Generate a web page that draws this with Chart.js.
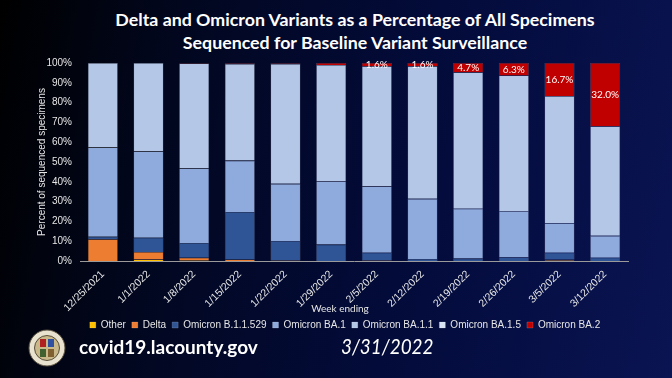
<!DOCTYPE html>
<html>
<head>
<meta charset="utf-8">
<script src="https://cdn.jsdelivr.net/npm/chart.js@4"></script>
<style>
  html, body { margin: 0; padding: 0; }
  body {
    width: 672px; height: 378px; overflow: hidden; position: relative;
    background: linear-gradient(100deg, #000000 0%, #02071f 25%, #030b3a 60%, #0a1452 100%);
    font-family: Lato, "Open Sans", sans-serif;
  }
  .title {
    position: absolute; left: 38px; width: 634px; top: 8px;
    text-align: center; color: #fff; font-weight: bold; font-size: 17.8px; line-height: 23px;
  }
  .chartbox { position: absolute; left: 0; top: 49px; width: 672px; height: 291px; }
  .seal { position: absolute; left: 28px; top: 329px; }
  .site { position: absolute; left: 79px; top: 335px; color: #fff; font-size: 19px; font-weight: bold; }
  .date { position: absolute; left: 341px; top: 333px; color: #fff; font-size: 21px; font-style: italic;
    transform: scaleX(0.9); transform-origin: left center; }
</style>
</head>
<body>
<div class="title">Delta and Omicron Variants as a Percentage of All Specimens<br>Sequenced for Baseline Variant Surveillance</div>
<div class="chartbox"><canvas id="chart"></canvas></div>
<svg class="seal" width="38" height="38" viewBox="0 0 38 38">
  <circle cx="19" cy="19" r="18" fill="#e8e2cf" stroke="#5a5040" stroke-width="1"/>
  <circle cx="19" cy="19" r="12.5" fill="#c8b88a" stroke="#3a3020" stroke-width="0.8"/>
  <rect x="12" y="10" width="6" height="8" fill="#b02020"/>
  <rect x="20" y="10" width="6" height="8" fill="#3050a0"/>
  <rect x="12" y="20" width="6" height="8" fill="#406030"/>
  <rect x="20" y="20" width="6" height="8" fill="#806030"/>
</svg>
<div class="site">covid19.lacounty.gov</div>
<div class="date">3/31/2022</div>
<script>
// Week ending labels
const weeks = ['12/25/2021', '1/1/2022', '1/8/2022', '1/15/2022', '1/22/2022', '1/29/2022',
  '2/5/2022', '2/12/2022', '2/19/2022', '2/26/2022', '3/5/2022', '3/12/2022'];

// Percent of sequenced specimens per variant
const other    = [0, 0.8, 0.2, 0, 0, 0, 0, 0, 0, 0, 0.3, 0];
const delta    = [11.0, 3.8, 1.5, 0.8, 0.2, 0, 0.2, 0, 0, 0, 0.5, 0];
const b11529   = [1.3, 7.2, 7.4, 24.0, 9.9, 8.3, 4.0, 1.0, 1.2, 1.9, 3.4, 1.7];
const ba1      = [45.1, 43.6, 37.7, 25.9, 28.9, 31.9, 33.5, 30.4, 25.2, 23.3, 14.9, 11.0];
const ba11     = [42.6, 44.6, 53.0, 48.9, 60.6, 58.8, 60.7, 67.0, 68.9, 68.5, 64.2, 55.3];
const ba15     = [0, 0, 0, 0, 0, 0, 0, 0, 0, 0, 0, 0];
const ba2      = [0, 0, 0.2, 0.4, 0.4, 1.0, 1.6, 1.6, 4.7, 6.3, 16.7, 32.0];

const yTicks = [0, 10, 20, 30, 40, 50, 60, 70, 80, 90, 100];

const textColor = '#e6e6e6';

// Labels for the BA.2 segments (only from 2/5 on)
const ba2Labels = {
  id: 'ba2Labels',
  afterDatasetsDraw(chart) {
    const ctx = chart.ctx;
    const meta = chart.getDatasetMeta(6);
    ctx.save();
    ctx.font = '10px Lato, "Open Sans", sans-serif';
    ctx.fillStyle = '#ffffff';
    ctx.textAlign = 'center';
    ctx.textBaseline = 'middle';
    meta.data.forEach((bar, i) => {
      if (i < 6) return;
      ctx.fillText(ba2[i].toFixed(1) + '%', bar.x, (bar.y + bar.base) / 2 + 0.5);
    });
    ctx.restore();
  }
};

// "Week ending" sits between the rotated labels, so draw it by hand
const weekTitle = {
  id: 'weekTitle',
  afterDraw(chart) {
    const { ctx, chartArea } = chart;
    ctx.save();
    ctx.font = '10px Lato, "Open Sans", sans-serif';
    ctx.fillStyle = textColor;
    ctx.textAlign = 'center';
    ctx.textBaseline = 'middle';
    ctx.fillText('Week ending', (chartArea.left + chartArea.right) / 2 - 14, chartArea.bottom + 48);
    ctx.restore();
  }
};

// nudge the legend right, the original is not centred on the canvas
const legendShift = {
  id: 'legendShift',
  afterLayout(chart) {
    chart.legend.left += 13;
    chart.legend.right += 13;
  }
};

const mk = (label, data, color) => ({
  label, data, backgroundColor: color,
  borderColor: 'rgba(255,255,255,0.25)', borderWidth: 0.6,
  barPercentage: 0.66, categoryPercentage: 1
});

new Chart(document.getElementById('chart'), {
  type: 'bar',
  data: {
    labels: weeks,
    datasets: [
      mk('Other', other, '#ffc000'),
      mk('Delta', delta, '#ed7d31'),
      mk('Omicron B.1.1.529', b11529, '#2f5597'),
      mk('Omicron BA.1', ba1, '#8faadc'),
      mk('Omicron BA.1.1', ba11, '#b4c7e7'),
      mk('Omicron BA.1.5', ba15, '#dae3f3'),
      mk('Omicron BA.2', ba2, '#c00000'),
    ],
  },
  options: {
    responsive: true,
    maintainAspectRatio: false,
    animation: false,
    layout: { padding: { left: 36, right: 44, top: 0, bottom: 0 } },
    scales: {
      x: {
        stacked: true,
        afterFit: (scale) => { scale.height = 53; },
        grid: { display: false, drawTicks: false },
        border: { color: '#9a9a9a', width: 1 },
        ticks: { color: textColor, font: { size: 10.5 }, minRotation: 45, maxRotation: 45, padding: 7 },
      },
      y: {
        stacked: true,
        min: 0, max: 100,
        afterFit: (scale) => { scale.width = 44; },
        afterBuildTicks: (axis) => { axis.ticks = yTicks.map((v) => ({ value: v })); },
        grid: { display: false, drawTicks: false },
        border: { display: false },
        ticks: { color: textColor, font: { size: 10 }, padding: 8, callback: (v) => v + '%' },
        title: { display: true, text: 'Percent of sequenced specimens', color: textColor, font: { size: 10 }, padding: 0 },
      },
    },
    plugins: {
      legend: {
        position: 'bottom',
        labels: { color: textColor, font: { size: 10 }, boxWidth: 6, boxHeight: 6, padding: 6 },
      },
      tooltip: { enabled: false },
    },
  },
  plugins: [ba2Labels, weekTitle, legendShift],
});
</script>
</body>
</html>
